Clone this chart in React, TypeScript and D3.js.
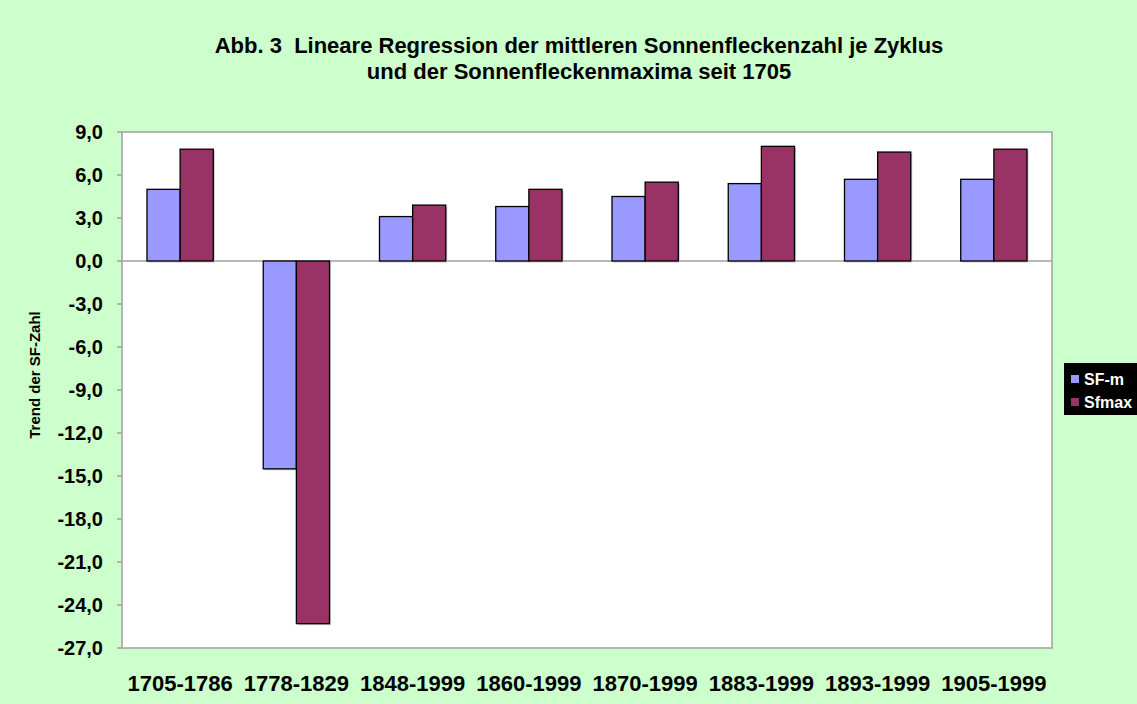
import React from "react";
import * as d3 from "d3";

const categories = [
  "1705-1786",
  "1778-1829",
  "1848-1999",
  "1860-1999",
  "1870-1999",
  "1883-1999",
  "1893-1999",
  "1905-1999",
];
const seriesNames = ["SF-m", "Sfmax"];
const sfM = [5.0, -14.5, 3.1, 3.8, 4.5, 5.4, 5.7, 5.7];
const sfMax = [7.8, -25.3, 3.9, 5.0, 5.5, 8.0, 7.6, 7.8];
const yTicks = [9, 6, 3, 0, -3, -6, -9, -12, -15, -18, -21, -24, -27];
const colors = ["#9999FF", "#993366"];

const width = 1137;
const height = 704;
const plot = { left: 122, top: 132, right: 1052, bottom: 648 };
const font = "Arial, 'Liberation Sans', Helvetica, sans-serif";

function App() {
  const x = d3
    .scaleBand()
    .domain(categories)
    .range([plot.left, plot.right])
    .paddingInner(0.43)
    .paddingOuter(0.215);
  const inner = d3
    .scaleBand()
    .domain(seriesNames)
    .range([0, x.bandwidth()]);
  const y = d3.scaleLinear().domain([-27, 9]).range([plot.bottom, plot.top]);
  const series = [sfM, sfMax];
  const fmt = (v: number) => d3.format(".1f")(v).replace(".", ",").replace("\u2212", "-");

  return (
    <svg
      width={width}
      height={height}
      style={{ position: "absolute", left: 0, top: 0 }}
      fontFamily={font}
    >
      <rect width={width} height={height} fill="#CCFFCC" />

      <text x={579} y={53} textAnchor="middle" fontWeight="bold" fontSize={22}>
        Abb. 3{"\u00a0\u00a0"}Lineare Regression der mittleren Sonnenfleckenzahl je Zyklus
      </text>
      <text x={579} y={79} textAnchor="middle" fontWeight="bold" fontSize={22}>
        und der Sonnenfleckenmaxima seit 1705
      </text>

      <rect
        x={plot.left}
        y={plot.top}
        width={plot.right - plot.left}
        height={plot.bottom - plot.top}
        fill="#fff"
        stroke="#A0A0A0"
        strokeWidth={1.5}
      />

      {yTicks.map((t) => (
        <g key={t}>
          <line
            x1={plot.left - 5}
            x2={plot.left}
            y1={y(t)}
            y2={y(t)}
            stroke="#A0A0A0"
            strokeWidth={1.5}
          />
          <text
            x={103}
            y={y(t)}
            dy="0.36em"
            textAnchor="end"
            fontWeight="bold"
            fontSize={20}
          >
            {fmt(t)}
          </text>
        </g>
      ))}

      <line
        x1={plot.left}
        x2={plot.right}
        y1={y(0)}
        y2={y(0)}
        stroke="#A0A0A0"
        strokeWidth={1.5}
      />

      {categories.map((c, i) => (
        <g key={c}>
          {seriesNames.map((s, j) => {
            const v = series[j][i];
            const bx = (x(c) as number) + (inner(s) as number);
            const y0 = Math.min(y(0), y(v));
            const h = Math.abs(y(v) - y(0));
            return (
              <g key={s}>
                <rect
                  x={bx + 1.5}
                  y={y0 + 1.5}
                  width={inner.bandwidth()}
                  height={h}
                  fill="#C8C8C8"
                />
                <rect
                  x={bx}
                  y={y0}
                  width={inner.bandwidth()}
                  height={h}
                  fill={colors[j]}
                  stroke="#000"
                  strokeWidth={1.3}
                />
              </g>
            );
          })}
          <text
            x={(x(c) as number) + x.bandwidth() / 2}
            y={691}
            textAnchor="middle"
            fontWeight="bold"
            fontSize={22}
          >
            {c}
          </text>
        </g>
      ))}

      <text
        transform={`translate(40, ${375}) rotate(-90)`}
        textAnchor="middle"
        fontWeight="bold"
        fontSize={15}
      >
        Trend der SF-Zahl
      </text>

      <g transform="translate(1064, 363)">
        <rect width={80} height={52} fill="#000" />
        {seriesNames.map((s, i) => (
          <g key={s} transform={`translate(0, ${i * 23})`}>
            <rect x={7} y={12} width={8} height={8} fill={colors[i]} />
            <text
              x={20}
              y={16}
              dy="0.35em"
              fill="#fff"
              fontWeight="bold"
              fontSize={16}
            >
              {s}
            </text>
          </g>
        ))}
      </g>
    </svg>
  );
}

export default App;
